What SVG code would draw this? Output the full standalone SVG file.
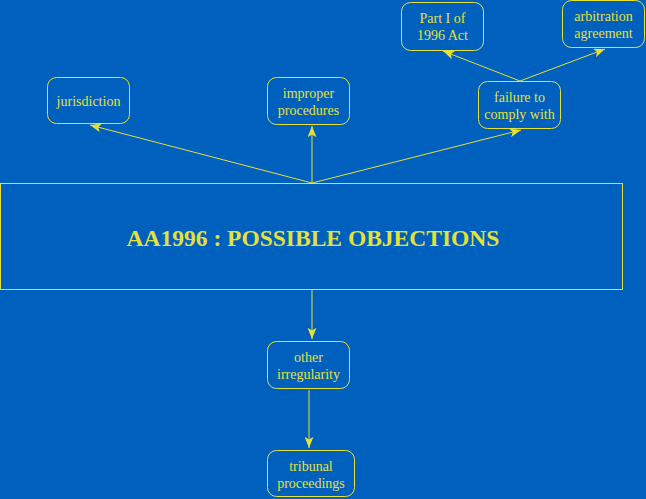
<svg xmlns="http://www.w3.org/2000/svg" width="646" height="499" viewBox="0 0 646 499">
<style>
.bg{fill:#0060be}
.node rect{fill:none;stroke:#e6e03a;stroke-width:1}
.node text{fill:#e6e03a;font-family:"Liberation Serif","Times New Roman",serif;font-size:14px;text-anchor:middle}
.title{font-size:23.5px !important;font-weight:bold}
#connectors line{stroke:#e6e03a;stroke-width:1;marker-end:url(#arr)}
</style>
<defs>
<marker id="arr" viewBox="0 0 10 8" refX="10" refY="4" markerWidth="12" markerHeight="9" markerUnits="userSpaceOnUse" orient="auto">
<path d="M0,0 L10,4 L0,8 L2.5,4 z" fill="#e6e03a"/>
</marker>
</defs>
<rect class="bg" x="0" y="0" width="646" height="499"/>
<g id="connectors">
<line x1="312" y1="183" x2="90" y2="125"/>
<line x1="312" y1="183" x2="312" y2="126"/>
<line x1="312" y1="183" x2="521" y2="130"/>
<line x1="520" y1="81" x2="443" y2="51"/>
<line x1="520" y1="81" x2="605" y2="49"/>
<line x1="312" y1="290" x2="312" y2="339"/>
<line x1="309" y1="390" x2="309" y2="448"/>
</g>
<g id="main" class="node">
<rect x="0.5" y="183.5" width="622" height="106"/>
<text class="title" x="313" y="246">AA1996 : POSSIBLE OBJECTIONS</text>
</g>
<g id="jurisdiction" class="node">
<rect x="47.5" y="77.5" width="82" height="46" rx="9"/>
<text x="88.5" y="106">jurisdiction</text>
</g>
<g id="improper" class="node">
<rect x="267.5" y="77.5" width="82" height="47" rx="9"/>
<text x="308.5" y="98">improper</text>
<text x="308.5" y="115">procedures</text>
</g>
<g id="failure" class="node">
<rect x="478.5" y="81.5" width="82" height="47" rx="9"/>
<text x="519.5" y="102">failure to</text>
<text x="519.5" y="119">comply with</text>
</g>
<g id="part1" class="node">
<rect x="401.5" y="2.5" width="82" height="48" rx="9"/>
<text x="442.5" y="23">Part I of</text>
<text x="442.5" y="40">1996 Act</text>
</g>
<g id="arbitration" class="node">
<rect x="562.5" y="0.5" width="82" height="47" rx="9"/>
<text x="603.5" y="21">arbitration</text>
<text x="603.5" y="38">agreement</text>
</g>
<g id="other" class="node">
<rect x="267.5" y="341.5" width="82" height="47" rx="9"/>
<text x="308.5" y="362">other</text>
<text x="308.5" y="379">irregularity</text>
</g>
<g id="tribunal" class="node">
<rect x="267.5" y="450.5" width="87" height="46" rx="9"/>
<text x="311" y="471">tribunal</text>
<text x="311" y="488">proceedings</text>
</g>
</svg>
